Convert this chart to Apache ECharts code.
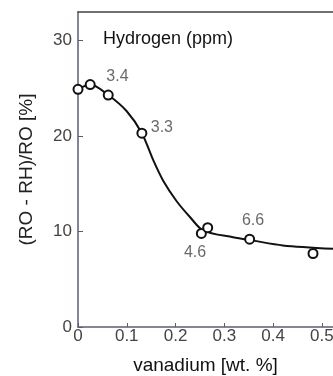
<!DOCTYPE html>
<html>
<head>
<meta charset="utf-8">
<script src="https://cdn.jsdelivr.net/npm/echarts@6/dist/echarts.min.js"></script>
<style>html,body{margin:0;padding:0;background:#fff}#c{width:333px;height:376px}</style>
</head>
<body>
<div id="c"></div>
<script>
// measured points: [vanadium wt.%, (RO-RH)/RO %]
var measuredX = [0, 0.025, 0.062, 0.131, 0.253, 0.266, 0.352, 0.482];
var measuredY = [24.9, 25.4, 24.3, 20.3, 9.8, 10.4, 9.2, 7.7];
// fitted curve
var curveX = [0, 0.025, 0.062, 0.1, 0.131, 0.155, 0.175, 0.202, 0.23, 0.257, 0.318, 0.359, 0.42, 0.523];
var curveY = [24.9, 25.4, 24.3, 22.6, 20.3, 17.4, 15.3, 13.2, 11.5, 10.1, 9.4, 9.05, 8.55, 8.2];
// hydrogen annotations: text and anchor position
var hydrogenText = ['3.4', '3.3', '4.6', '6.6'];
var hydrogenX = [0.081, 0.172, 0.240, 0.359];
var hydrogenY = [26.25, 20.9, 7.8, 11.1];
var xTicks = [0, 0.1, 0.2, 0.3, 0.4, 0.5];
var yTicks = [0, 10, 20, 30];

var zip = function (a, b) { return a.map(function (v, i) { return [v, b[i]]; }); };
var chart = echarts.init(document.getElementById('c'));
var axisColor = '#5a5e72';
chart.setOption({
  animation: false,
  backgroundColor: '#fff',
  grid: { left: 78, top: 12, right: 0, height: 315, outerBoundsMode: 'none', containLabel: false },
  graphic: [{
    type: 'text', left: 103, top: 30,
    style: { text: 'Hydrogen (ppm)', font: '18px "Liberation Sans", Arial, sans-serif', fill: '#111' }
  }],
  xAxis: [{
    type: 'value', min: 0, max: 0.523, interval: 0.1,
    name: 'vanadium [wt. %]', nameLocation: 'middle', nameGap: 29,
    nameTextStyle: { fontFamily: 'Liberation Sans', fontSize: 19, color: '#111', padding: [0, 0, 0, 0] },
    axisLine: { lineStyle: { color: axisColor, width: 1.5 } },
    axisTick: { inside: true, length: 4, lineStyle: { color: axisColor } },
    splitLine: { show: false },
    axisLabel: {
      fontFamily: 'Liberation Sans', fontSize: 17, color: '#444', margin: 1, showMaxLabel: false,
      formatter: function (v) { var t = xTicks.filter(function (k) { return Math.abs(k - v) < 1e-6; }); return t.length ? String(t[0]) : ''; }
    }
  }, {
    type: 'value', position: 'top', min: 0, max: 0.523,
    axisLine: { show: true, lineStyle: { color: '#4a4040', width: 1.5 } },
    axisTick: { show: false }, axisLabel: { show: false }, splitLine: { show: false }
  }],
  yAxis: {
    type: 'value', min: 0, max: 33, interval: 10,
    name: '(RO - RH)/RO [%]', nameLocation: 'middle', nameGap: 42,
    nameTextStyle: { fontFamily: 'Liberation Sans', fontSize: 19, color: '#222' },
    axisLine: { show: true, lineStyle: { color: axisColor, width: 1.5 } },
    axisTick: { inside: true, length: 5, lineStyle: { color: axisColor } },
    splitLine: { show: false },
    axisLabel: {
      fontFamily: 'Liberation Sans', fontSize: 17, color: '#444', margin: 6, showMaxLabel: false,
      formatter: function (v) { return yTicks.indexOf(v) >= 0 ? String(v) : ''; }
    }
  },
  series: [{
    type: 'line', data: zip(curveX, curveY), smooth: 0.3, symbol: 'none',
    lineStyle: { color: '#111', width: 2 }, z: 2
  }, {
    type: 'scatter', data: zip(measuredX, measuredY), symbol: 'circle', symbolSize: 9,
    itemStyle: { color: '#fff', borderColor: '#111', borderWidth: 2, opacity: 1 }, z: 3
  }, {
    type: 'scatter', symbol: 'circle', symbolSize: 1, silent: true,
    itemStyle: { color: 'rgba(0,0,0,0)' },
    data: hydrogenText.map(function (t, i) { return { value: [hydrogenX[i], hydrogenY[i]], name: t }; }),
    label: {
      show: true, position: 'inside', formatter: '{b}',
      fontFamily: 'Liberation Sans', fontSize: 16, color: '#444'
    }, z: 4
  }]
});
</script>
</body>
</html>
